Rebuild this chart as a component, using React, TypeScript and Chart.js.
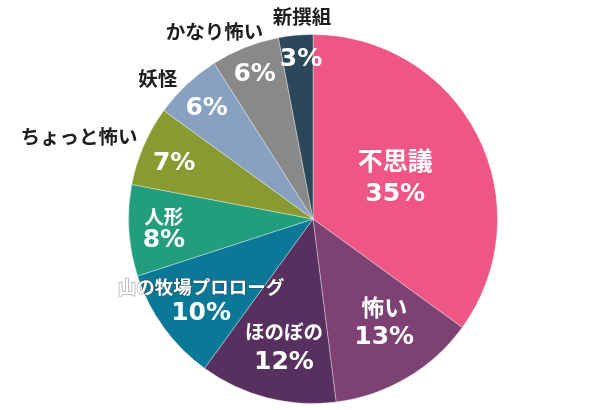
import React, { useEffect, useRef } from "react";
import { Chart, registerables } from "chart.js";

Chart.register(...registerables);

const categories = ["不思議", "怖い", "ほのぼの", "山の牧場プロローグ", "人形", "ちょっと怖い", "妖怪", "かなり怖い", "新撰組"];
const values = [35, 13, 12, 10, 8, 7, 6, 6, 3];
const percentLabels = ["35%", "13%", "12%", "10%", "8%", "7%", "6%", "6%", "3%"];
const colors = ["#EE5684", "#7E4173", "#57305F", "#0A7896", "#239E7C", "#8A9A33", "#88A1C0", "#898989", "#2D475A"];

// label layout: inside = name and percent stacked inside slice; outside = name outside, percent inside
type Layout = { inside: boolean; r: number; da: number; gap: number; nameSize: number; outR?: number; outDa?: number };
const labelLayout: Layout[] = [
  { inside: true, r: 0.5, da: 0, gap: 17, nameSize: 25 },
  { inside: true, r: 0.68, da: -4, gap: 15, nameSize: 23 },
  { inside: true, r: 0.71, da: -1.6, gap: 15.5, nameSize: 19.5 },
  { inside: true, r: 0.75, da: 0, gap: 13.5, nameSize: 18.5 },
  { inside: true, r: 0.81, da: 0, gap: 12, nameSize: 19.5 },
  { inside: false, r: 0.81, da: -1.7, gap: 0, nameSize: 19.5, outR: 1.345, outDa: -3.9 },
  { inside: false, r: 0.83, da: -0.8, gap: 0, nameSize: 19.5, outR: 1.135, outDa: -4.6 },
  { inside: false, r: 0.845, da: -0.4, gap: 0, nameSize: 19.5, outR: 1.148, outDa: -6.1 },
  { inside: false, r: 0.865, da: 1.1, gap: 0, nameSize: 19.5, outR: 1.1, outDa: 2.3 },
];

const FONT = '"DejaVu Sans", "Noto Sans CJK JP", sans-serif';
const JP = '"Noto Sans CJK JP", sans-serif';

const labelPlugin = {
  id: "sliceLabels",
  afterDatasetsDraw(chart: any) {
    const ctx = chart.ctx as CanvasRenderingContext2D;
    const meta = chart.getDatasetMeta(0);
    ctx.save();
    ctx.textAlign = "center";
    ctx.textBaseline = "middle";
    meta.data.forEach((arc: any, i: number) => {
      const p = arc.getProps(["x", "y", "startAngle", "endAngle", "outerRadius"], true);
      const L = labelLayout[i];
      const mid = (p.startAngle + p.endAngle) / 2;
      const a = mid + (L.da * Math.PI) / 180;
      const cx = p.x + Math.cos(a) * p.outerRadius * L.r;
      const cy = p.y + Math.sin(a) * p.outerRadius * L.r;
      if (L.inside) {
        ctx.font = `bold ${L.nameSize}px ${JP}`;
        if (i === 3) {
          ctx.lineWidth = 1.5;
          ctx.strokeStyle = "rgba(60,60,60,0.45)";
          ctx.strokeText(categories[i], cx, cy - L.gap);
        }
        ctx.fillStyle = "#ffffff";
        ctx.fillText(categories[i], cx, cy - L.gap);
        ctx.font = `bold 25px ${FONT}`;
        ctx.fillText(percentLabels[i], cx, cy + L.gap);
      } else {
        ctx.font = `bold 25px ${FONT}`;
        ctx.fillStyle = "#ffffff";
        ctx.fillText(percentLabels[i], cx, cy);
        const oa = mid + ((L.outDa || 0) * Math.PI) / 180;
        const ox = p.x + Math.cos(oa) * p.outerRadius * (L.outR || 1.1);
        const oy = p.y + Math.sin(oa) * p.outerRadius * (L.outR || 1.1);
        ctx.font = `bold ${L.nameSize}px ${JP}`;
        ctx.fillStyle = "#1e1e1e";
        ctx.fillText(categories[i], ox, oy);
      }
    });
    ctx.restore();
  },
};

export default function App() {
  const ref = useRef<HTMLCanvasElement>(null);
  useEffect(() => {
    if (!ref.current) return;
    const chart = new Chart(ref.current, {
      type: "pie",
      data: {
        labels: categories,
        datasets: [
          {
            data: values,
            backgroundColor: colors,
            borderColor: "rgba(255,255,255,0.35)",
            borderWidth: 1,
          },
        ],
      },
      options: {
        animation: false,
        responsive: false,
        devicePixelRatio: 1,
        layout: { padding: { top: 34, bottom: 6, left: 128, right: 102 } },
        plugins: { legend: { display: false }, tooltip: { enabled: false } },
      },
      plugins: [labelPlugin],
    });
    return () => chart.destroy();
  }, []);
  return (
    <div style={{ position: "fixed", left: 0, top: 0, width: 600, height: 410, background: "#fff" }}>
      <canvas ref={ref} width={600} height={410} style={{ width: 600, height: 410 }} />
    </div>
  );
}
